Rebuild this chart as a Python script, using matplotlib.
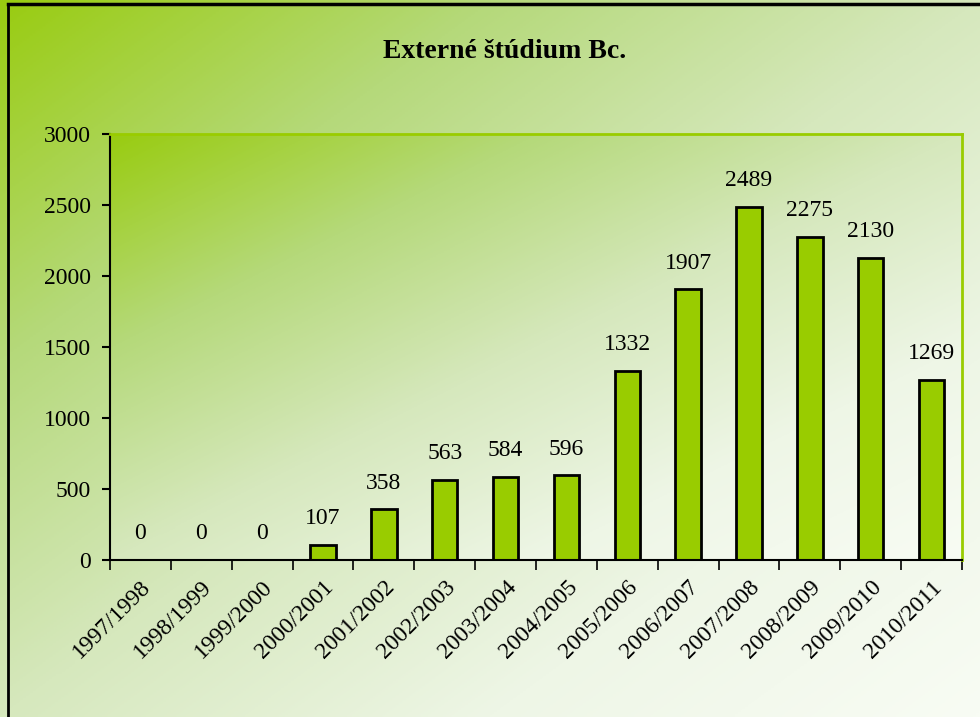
import numpy as np
import matplotlib.pyplot as plt
from matplotlib.colors import LinearSegmentedColormap
from matplotlib.lines import Line2D

years = ["1997/1998", "1998/1999", "1999/2000", "2000/2001", "2001/2002",
         "2002/2003", "2003/2004", "2004/2005", "2005/2006", "2006/2007",
         "2007/2008", "2008/2009", "2009/2010", "2010/2011"]
students = [0, 0, 0, 107, 358, 563, 584, 596, 1332, 1907, 2489, 2275, 2130, 1269]
yticks = [0, 500, 1000, 1500, 2000, 2500, 3000]

plt.rcParams["font.family"] = ["Liberation Serif", "DejaVu Serif"]

fig = plt.figure(figsize=(9.8, 7.17), dpi=100)

# diagonal green -> white gradient
cmap = LinearSegmentedColormap.from_list(
    "grn", ["#99cc11", "#b5d97a", "#d6e8bd", "#eef6e6", "#f8fcf4"])
gx, gy = np.meshgrid(np.linspace(0, 1, 300), np.linspace(0, 1, 300))
grad = (gx * 0.5 + gy * 0.5)

bg = fig.add_axes([0, 0, 1, 1], zorder=0)
bg.imshow(grad, cmap=cmap, aspect="auto", extent=[0, 1, 0, 1], origin="upper")
bg.axis("off")
# black frame at left and top
fig.add_artist(Line2D([8 / 980, 8 / 980], [0, 1 - 4 / 717], color="black", lw=2))
fig.add_artist(Line2D([8 / 980, 1], [1 - 4 / 717, 1 - 4 / 717], color="black", lw=2.5))

ax = fig.add_axes([110 / 980, 1 - 560 / 717, 852 / 980, 426 / 717], zorder=1)
ax.imshow(grad, cmap=cmap, aspect="auto", extent=[-0.5, len(years) - 0.5, 0, 3000],
          origin="upper", zorder=0)

x = np.arange(len(years))
ax.bar(x, students, width=0.42, color="#99cc00", edgecolor="black", linewidth=2, zorder=2)
for xi, v in zip(x, students):
    ax.text(xi, v + 110, str(v), ha="center", va="bottom", fontsize=17, zorder=3)

ax.set_xlim(-0.5, len(years) - 0.5)
ax.set_ylim(0, 3000)
ax.set_yticks(yticks)
ax.set_yticklabels([str(t) for t in yticks], fontsize=17)
ax.set_xticks(x)
ax.set_xticklabels(years, rotation=45, ha="right", rotation_mode="anchor", fontsize=17)
ax.set_xticks(np.arange(-0.5, len(years)), minor=True)
ax.tick_params(axis="x", which="major", length=0, pad=12)
ax.tick_params(axis="x", which="minor", length=7, width=1.2, direction="out")
ax.tick_params(axis="y", length=6, width=1.5, direction="out", pad=8)

ax.spines["top"].set_color("#99cc00")
ax.spines["right"].set_color("#99cc00")
ax.spines["top"].set_linewidth(2)
ax.spines["right"].set_linewidth(2)
ax.spines["left"].set_linewidth(1.5)
ax.spines["bottom"].set_linewidth(1.5)

fig.text(0.515, 1 - 52 / 717, "Externé štúdium Bc.", ha="center", va="center",
         fontsize=20, fontweight="bold")

fig.savefig("out.png", dpi=100)
